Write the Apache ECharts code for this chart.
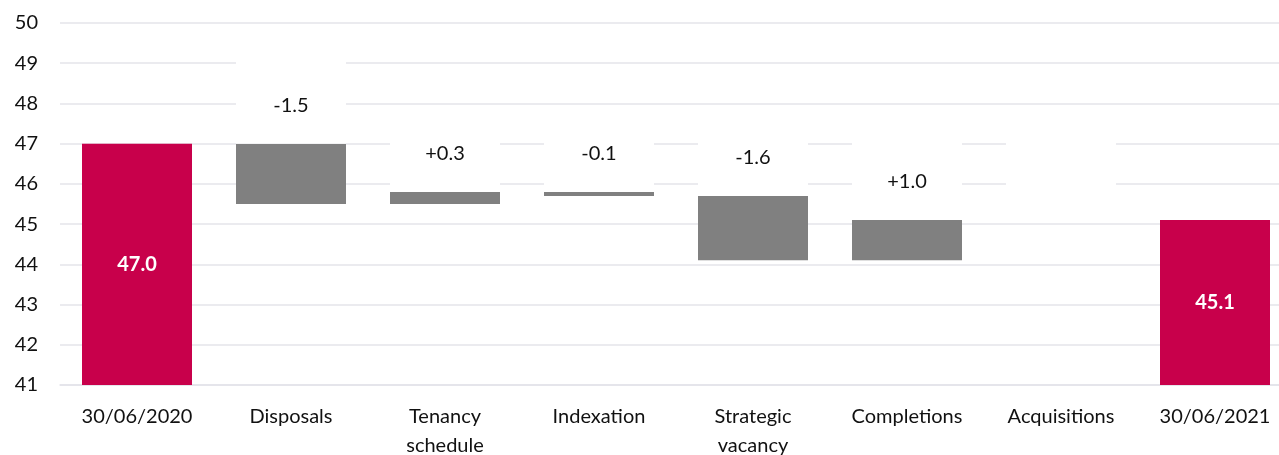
<!DOCTYPE html>
<html>
<head>
<meta charset="utf-8">
<script src="https://cdn.jsdelivr.net/npm/echarts@6/dist/echarts.min.js"></script>
<style>
html,body{margin:0;padding:0;background:#fff;}
#chart{width:1279px;height:455px;}
</style>
</head>
<body>
<div id="chart"></div>
<script>
// ---- data ----
const categories = ['30/06/2020', 'Disposals', 'Tenancy\nschedule', 'Indexation', 'Strategic\nvacancy', 'Completions', 'Acquisitions', '30/06/2021'];
const startValue = 47.0;
const changes = [-1.5, 0.3, -0.1, -1.6, 1.0, 0];   // Disposals .. Acquisitions
const endValue = 45.1;
const yTicks = { min: 41, max: 50, interval: 1 };

// ---- build waterfall stacks ----
const baseData = [null];
const deltaData = [null];
const boxData = [null];
const totalData = [startValue];
let running = startValue;
changes.forEach(c => {
  const next = Math.round((running + c) * 10) / 10;
  baseData.push(Math.min(running, next));
  deltaData.push(Math.abs(c));
  boxData.push({ value: 2.05, change: c });
  totalData.push(null);
  running = next;
});
baseData.push(null); deltaData.push(null); boxData.push(null);
totalData.push(endValue);

const FONT = 'Lato';
const FS = 20;
const chart = echarts.init(document.getElementById('chart'), null, { renderer: 'canvas' });
chart.setOption({
  animation: false,
  backgroundColor: '#ffffff',
  grid: { left: 60, width: 1232, top: 23, bottom: 70, containLabel: false, outerBoundsMode: 'none' },
  xAxis: {
    type: 'category',
    data: categories,
    axisTick: { show: false },
    axisLine: { show: true, lineStyle: { color: '#e4e4ea', width: 1.5 } },
    axisLabel: { color: '#111', fontFamily: FONT, fontSize: FS, lineHeight: 29, margin: 17, interval: 0 }
  },
  yAxis: {
    type: 'value',
    min: yTicks.min, max: yTicks.max, interval: yTicks.interval,
    axisLine: { show: false },
    axisTick: { show: false },
    splitLine: { show: true, lineStyle: { color: '#e4e4ea', width: 1.5 } },
    axisLabel: { color: '#111', fontFamily: FONT, fontSize: FS, margin: 22 }
  },
  series: [
    {
      name: 'base', type: 'bar', stack: 'w', barWidth: 110,
      itemStyle: { color: 'rgba(0,0,0,0)' },
      data: baseData, silent: true
    },
    {
      name: 'total', type: 'bar', stack: 'w', barWidth: 108,
      itemStyle: { color: '#c8004b' },
      label: {
        show: true, position: 'inside', color: '#fff', fontFamily: FONT,
        fontWeight: 'bold', fontSize: FS,
        formatter: p => p.value == null ? '' : p.value.toFixed(1)
      },
      data: totalData
    },
    {
      name: 'delta', type: 'bar', stack: 'w', barWidth: 110,
      itemStyle: { color: '#808080' },
      data: deltaData
    },
    {
      name: 'labels', type: 'bar', stack: 'w', barWidth: 110,
      itemStyle: { color: '#ffffff' },
      label: {
        show: true, position: 'inside', offset: [0, 3], color: '#111', fontFamily: FONT, fontSize: FS,
        formatter: p => {
          const c = p.data && p.data.change;
          if (c == null || c === 0) return '';
          return (c > 0 ? '+' : '') + c.toFixed(1);
        }
      },
      data: boxData
    }
  ]
});
</script>
</body>
</html>
